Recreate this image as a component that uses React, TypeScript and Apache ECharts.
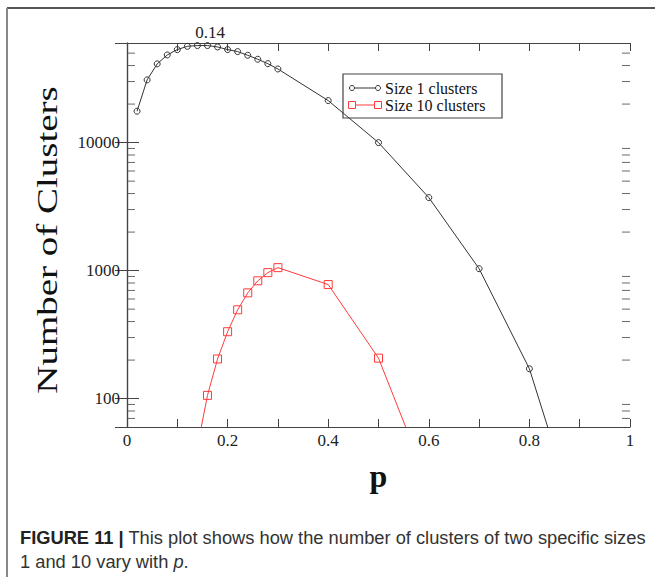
import React, { useEffect, useRef } from "react";
import * as echarts from "echarts";

const pSize1 = [0.02, 0.04, 0.06, 0.08, 0.1, 0.12, 0.14, 0.16, 0.18, 0.2, 0.22, 0.24, 0.26, 0.28, 0.3, 0.4, 0.5, 0.6, 0.7, 0.8, 0.9];
const nSize1 = [17600, 30900, 41200, 48400, 53300, 56500, 57300, 57300, 55900, 53300, 51400, 48100, 44800, 41400, 37600, 21300, 10000, 3720, 1035, 171, 9.6];
const pSize10 = [0.14, 0.16, 0.18, 0.2, 0.22, 0.24, 0.26, 0.28, 0.3, 0.4, 0.5, 0.6];
const nSize10 = [42, 106, 204, 333, 494, 670, 832, 964, 1055, 778, 207, 21];
const xTicks = ["0", "0.2", "0.4", "0.6", "0.8", "1"];
const yTickLabels = ["100", "1000", "10000"];
const yMinorTicks = [70, 80, 90, 200, 300, 400, 500, 600, 700, 800, 900, 2000, 3000, 4000, 5000, 6000, 7000, 8000, 9000, 20000, 30000, 40000, 50000];
const seriesNames = ["Size 1 clusters", "Size 10 clusters"];
const peakLabel = "0.14";
const yAxisTitle = "Number of Clusters";

const SERIF = '"Liberation Serif", "DejaVu Serif", serif';
const SANS = '"Liberation Sans", Arial, sans-serif';

export default function App() {
  const ref = useRef<HTMLDivElement>(null);
  useEffect(() => {
    const chart = echarts.init(ref.current!, null, { renderer: "svg" });
    const axisLine = { show: true, lineStyle: { color: "#444", width: 1.2 } };
    const xCommon = {
      type: "value" as const,
      min: 0,
      max: 1,
      interval: 0.2,
      axisLine,
      splitLine: { show: false },
      axisTick: { show: true, inside: true, length: 8, lineStyle: { color: "#444" } },
      minorTick: { show: true, splitNumber: 2, length: 8, lineStyle: { color: "#444" } },
    };
    const yCommon = {
      type: "log" as const,
      logBase: 10,
      min: 60,
      max: 60000,
      axisLine,
      splitLine: { show: false },
      axisTick: { show: true, inside: true, length: 12, lineStyle: { color: "#444" } },
    };
    const minorTickSeries = (xPos: number, offset: number) => ({
      type: "scatter",
      silent: true,
      clip: false,
      data: yMinorTicks.map((v) => [xPos, v]),
      symbol: "rect",
      symbolSize: [8, 1],
      symbolOffset: [offset, 0],
      itemStyle: { color: "#444" },
      emphasis: { disabled: true },
      z: 4,
    });
    const option: any = {
      animation: false,
      backgroundColor: "#fff",
      grid: { left: 127, right: 25, top: 43, bottom: 150 },
      xAxis: [
        {
          ...xCommon,
          position: "bottom",
          name: "p",
          nameLocation: "middle",
          nameGap: 33,
          nameTextStyle: { fontFamily: SERIF, fontSize: 32, fontWeight: "bold", color: "#111" },
          axisLabel: {
            fontFamily: SERIF,
            fontSize: 17,
            color: "#222",
            margin: 5,
            formatter: (v: number) => {
              const i = Math.round(v / 0.2);
              return Math.abs(v - i * 0.2) < 1e-6 ? xTicks[i] : "";
            },
          },
        },
        { ...xCommon, position: "top", axisLabel: { show: false } },
      ],
      yAxis: [
        {
          ...yCommon,
          position: "left",
          axisLabel: {
            fontFamily: SERIF,
            fontSize: 17,
            color: "#222",
            margin: 7,
            formatter: (v: number) => {
              const s = String(Math.round(v));
              return yTickLabels.indexOf(s) >= 0 ? s : "";
            },
          },
        },
        { ...yCommon, position: "right", axisLabel: { show: false } },
      ],
      series: [
        {
          name: seriesNames[0],
          type: "line",
          data: pSize1.map((p, i) => [p, nSize1[i]]),
          clip: true,
          symbol: "circle",
          symbolSize: 6,
          showAllSymbol: true,
          lineStyle: { color: "#333", width: 1 },
          itemStyle: { color: "rgba(255,255,255,0)", borderColor: "#333", borderWidth: 1 },
          emphasis: { disabled: true },
          z: 3,
        },
        {
          name: seriesNames[1],
          type: "line",
          data: pSize10.map((p, i) => [p, nSize10[i]]),
          clip: true,
          symbol: "rect",
          symbolSize: 8,
          showAllSymbol: true,
          lineStyle: { color: "#ff3b3b", width: 1 },
          itemStyle: { color: "rgba(255,255,255,0)", borderColor: "#ff3b3b", borderWidth: 1 },
          emphasis: { disabled: true },
          z: 3,
        },
        minorTickSeries(0, 4),
        minorTickSeries(1, -4),
      ],
      graphic: [
        { type: "line", shape: { x1: 7, y1: 8, x2: 655, y2: 8 }, style: { stroke: "#555", lineWidth: 2 } },
        { type: "line", shape: { x1: 7, y1: 8, x2: 7, y2: 577 }, style: { stroke: "#888", lineWidth: 2 } },
        {
          type: "text",
          x: 47,
          y: 240,
          rotation: Math.PI / 2,
          scaleX: 1.3,
          style: { text: yAxisTitle, font: `30px ${SERIF}`, fill: "#111", align: "center", verticalAlign: "middle" },
        },
        {
          type: "text",
          x: 210,
          y: 32,
          style: { text: peakLabel, font: `17px ${SERIF}`, fill: "#222", align: "center", verticalAlign: "middle" },
        },
        {
          type: "group",
          x: 343,
          y: 74,
          children: [
            { type: "rect", shape: { x: 0, y: 0, width: 159, height: 44 }, style: { fill: "#fff", stroke: "#444", lineWidth: 1.2 } },
            { type: "line", shape: { x1: 9, y1: 14, x2: 35, y2: 14 }, style: { stroke: "#333", lineWidth: 1 } },
            { type: "circle", shape: { cx: 9, cy: 14, r: 2.5 }, style: { fill: "#fff", stroke: "#333", lineWidth: 1 } },
            { type: "circle", shape: { cx: 35, cy: 14, r: 2.5 }, style: { fill: "#fff", stroke: "#333", lineWidth: 1 } },
            { type: "text", x: 42, y: 14, style: { text: seriesNames[0], font: `16px ${SERIF}`, fill: "#111", verticalAlign: "middle" } },
            { type: "line", shape: { x1: 9, y1: 31, x2: 35, y2: 31 }, style: { stroke: "#ff3b3b", lineWidth: 1 } },
            { type: "rect", shape: { x: 5.5, y: 27.5, width: 7, height: 7 }, style: { fill: "#fff", stroke: "#ff3b3b", lineWidth: 1 } },
            { type: "rect", shape: { x: 31.5, y: 27.5, width: 7, height: 7 }, style: { fill: "#fff", stroke: "#ff3b3b", lineWidth: 1 } },
            { type: "text", x: 42, y: 31, style: { text: seriesNames[1], font: `16px ${SERIF}`, fill: "#111", verticalAlign: "middle" } },
          ],
        },
        {
          type: "text",
          x: 20,
          y: 537,
          style: {
            text: "{b|FIGURE 11 |} This plot shows how the number of clusters of two specific sizes",
            font: `18.3px ${SANS}`,
            fill: "#333",
            verticalAlign: "middle",
            rich: { b: { fontFamily: SANS, fontSize: 18.3, fontWeight: "bold", fill: "#222" } },
          },
        },
        {
          type: "text",
          x: 20,
          y: 561,
          style: {
            text: "1 and 10 vary with {i|p}.",
            font: `18.3px ${SANS}`,
            fill: "#333",
            verticalAlign: "middle",
            rich: { i: { fontFamily: SANS, fontSize: 18.3, fontStyle: "italic", fill: "#333" } },
          },
        },
      ],
    };
    chart.setOption(option);
    return () => chart.dispose();
  }, []);
  return (
    <div
      ref={ref}
      style={{ position: "fixed", left: 0, top: 0, width: 655, height: 577, background: "#fff" }}
    />
  );
}
